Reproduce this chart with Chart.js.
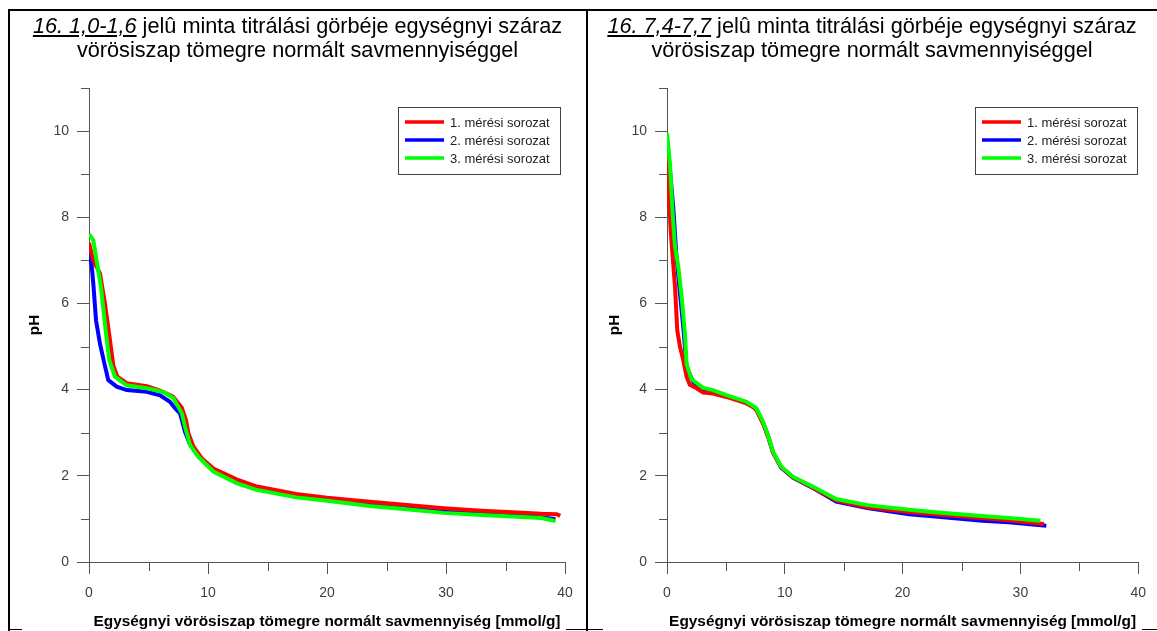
<!DOCTYPE html>
<html>
<head>
<meta charset="utf-8">
<script src="https://cdn.jsdelivr.net/npm/chart.js@4.4.0/dist/chart.umd.min.js"></script>
<style>
  html, body { margin: 0; padding: 0; background: #fff; }
  #wrap { position: relative; width: 1157px; height: 631px; overflow: hidden; font-family: "Liberation Sans", Arial, sans-serif; }
  canvas { position: absolute; top: 0; }
  .ln { position: absolute; background: #000; z-index: 5; }
  .title { position: absolute; top: 14px; text-align: center; font-size: 21.7px; line-height: 24px; color: #000; z-index: 6; white-space: nowrap; }
  .title u { font-style: italic; }
</style>
</head>
<body>
<div id="wrap">
  <canvas id="c1" width="587" height="631" style="left:0px"></canvas>
  <canvas id="c2" width="570" height="631" style="left:587px"></canvas>
  <div class="ln" style="left:8px;top:9px;width:1149px;height:2px"></div>
  <div class="ln" style="left:8px;top:9px;width:2px;height:622px"></div>
  <div class="ln" style="left:586px;top:9px;width:2px;height:622px"></div>
  <div class="ln" style="left:8px;top:629px;width:14px;height:1px"></div>
  <div class="ln" style="left:566px;top:629px;width:37px;height:1px"></div>
  <div class="ln" style="left:1142px;top:629px;width:15px;height:1px"></div>
  <div class="title" style="left:8px;width:579px"><u>16. 1,0-1,6</u> jelû minta titrálási görbéje egységnyi száraz<br>vörösiszap tömegre normált savmennyiséggel</div>
  <div class="title" style="left:587px;width:570px"><u>16. 7,4-7,7</u> jelû minta titrálási görbéje egységnyi száraz<br>vörösiszap tömegre normált savmennyiséggel</div>
</div>
<script>
// ---- data ----
const seriesLabels = ["1. mérési sorozat", "2. mérési sorozat", "3. mérési sorozat"];
const seriesColors = ["#ff0000", "#0000ff", "#00ff00"];
const xTitle = "Egységnyi vörösiszap tömegre normált savmennyiség [mmol/g]";
const yTitle = "pH";
const xMajorTicks = [0, 10, 20, 30, 40];
const xMinorTicks = [5, 15, 25, 35];
const yMajorTicks = [0, 2, 4, 6, 8, 10];
const yMinorTicks = [1, 3, 5, 7, 9, 11];

// left panel (16. 1,0-1,6)
const leftRedX   = [0, 0.36, 0.92, 1.34, 1.76, 2.05, 2.38, 3.17, 4.85, 5.97, 7.06, 7.8, 8.15, 8.35, 8.77, 9.47, 10.45, 12.4, 14, 17.4, 20, 23.6, 26, 29.8, 33, 36, 38, 39.3, 39.6];
const leftRedY   = [7.41, 7.0, 6.7, 6.0, 5.15, 4.55, 4.3, 4.15, 4.08, 3.98, 3.84, 3.58, 3.29, 2.99, 2.68, 2.41, 2.17, 1.92, 1.76, 1.58, 1.49, 1.40, 1.34, 1.25, 1.19, 1.15, 1.12, 1.11, 1.07];
const leftBlueX  = [0, 0.22, 0.36, 0.59, 0.92, 1.29, 1.62, 2.33, 3.17, 4.85, 5.97, 6.8, 7.23, 7.65, 8.07, 8.5, 9.2, 10.45, 12.4, 14, 17.4, 20, 23.6, 26, 29.8, 33, 36, 38, 39.2];
const leftBlueY  = [7.16, 6.89, 6.47, 5.61, 5.07, 4.61, 4.22, 4.07, 3.99, 3.95, 3.87, 3.72, 3.57, 3.45, 3.02, 2.72, 2.45, 2.12, 1.85, 1.70, 1.52, 1.44, 1.33, 1.26, 1.17, 1.11, 1.07, 1.04, 0.99];
const leftGreenX = [0, 0.36, 0.64, 1.0, 1.4, 1.7, 2.18, 3.17, 4.85, 6.25, 7.1, 7.5, 7.8, 8.07, 8.5, 9.2, 10.45, 12.4, 14, 17.4, 20, 23.6, 26, 29.8, 33, 36, 38, 39.2];
const leftGreenY = [7.61, 7.47, 7.0, 6.39, 5.38, 4.69, 4.3, 4.1, 4.03, 3.95, 3.80, 3.6, 3.45, 3.14, 2.71, 2.44, 2.1, 1.83, 1.68, 1.50, 1.42, 1.30, 1.24, 1.14, 1.09, 1.05, 1.02, 0.95];

// right panel (16. 7,4-7,7)
const rightRedX   = [0, 0.1, 0.31, 0.48, 0.68, 0.87, 1.1, 1.38, 1.66, 1.94, 2.51, 3.07, 3.91, 5.05, 6.74, 7.3, 7.58, 8.14, 8.57, 8.99, 9.7, 10.68, 12.37, 14.36, 17, 20.56, 23, 26.76, 29, 32];
const rightRedY   = [9.55, 8.98, 7.7, 7.08, 6.39, 5.38, 5.0, 4.69, 4.3, 4.11, 4.03, 3.93, 3.91, 3.83, 3.68, 3.6, 3.53, 3.22, 2.92, 2.54, 2.2, 1.97, 1.73, 1.43, 1.27, 1.16, 1.10, 1.02, 0.97, 0.88];
const rightBlueX  = [0, 0.25, 0.53, 0.8, 1.1, 1.4, 1.66, 2.22, 3.07, 3.91, 5.05, 6.74, 7.58, 8.14, 8.57, 8.99, 9.7, 10.68, 12.37, 14.36, 17, 20.56, 23, 26.76, 29, 32.2];
const rightBlueY  = [9.8, 9.1, 8.24, 7.1, 6.23, 5.4, 4.53, 4.18, 4.0, 3.96, 3.85, 3.7, 3.55, 3.24, 2.93, 2.55, 2.19, 1.96, 1.72, 1.40, 1.25, 1.11, 1.05, 0.96, 0.92, 0.84];
const rightGreenX = [0, 0.25, 0.48, 0.68, 0.96, 1.24, 1.52, 1.66, 2.09, 3.07, 3.91, 5.05, 6.74, 7.58, 8.14, 8.57, 8.99, 9.7, 10.68, 12.37, 14.36, 17, 20.56, 23, 26.76, 29, 31.7];
const rightGreenY = [9.95, 9.25, 8.09, 7.32, 6.85, 6.16, 5.31, 4.6, 4.24, 4.04, 3.99, 3.87, 3.72, 3.57, 3.26, 2.95, 2.56, 2.21, 1.98, 1.75, 1.46, 1.32, 1.21, 1.15, 1.07, 1.02, 0.96];

// ---- helpers ----
const zip = (xs, ys) => xs.map((x, i) => ({x: x, y: ys[i]}));
const FONT = '"Liberation Sans", Arial, sans-serif';
const AXIS = '#555555';

const minorTicksPlugin = {
  id: 'minorTicks',
  afterDraw(chart) {
    const ctx = chart.ctx, xs = chart.scales.x, ys = chart.scales.y;
    const ca = chart.chartArea;
    ctx.save();
    ctx.strokeStyle = AXIS; ctx.lineWidth = 1;
    ctx.beginPath();
    xMinorTicks.forEach(v => { const px = Math.round(xs.getPixelForValue(v)) + 0.5; ctx.moveTo(px, ca.bottom); ctx.lineTo(px, ca.bottom + 9); });
    yMinorTicks.forEach(v => { const py = Math.round(ys.getPixelForValue(v)) + 0.5; ctx.moveTo(ca.left - 8, py); ctx.lineTo(ca.left, py); });
    ctx.stroke();
    ctx.restore();
  }
};

const boxLegendPlugin = {
  id: 'boxLegend',
  afterDraw(chart, args, opts) {
    const ctx = chart.ctx;
    const b = opts.box;
    ctx.save();
    ctx.fillStyle = '#fff';
    ctx.fillRect(b.x, b.y, b.w, b.h);
    ctx.strokeStyle = '#444'; ctx.lineWidth = 1;
    ctx.strokeRect(b.x + 0.5, b.y + 0.5, b.w, b.h);
    ctx.font = '13px ' + FONT;
    ctx.textBaseline = 'middle';
    ctx.textAlign = 'left';
    chart.data.datasets.forEach((ds, i) => {
      const yy = b.y + 15 + i * 18;
      ctx.strokeStyle = ds.borderColor; ctx.lineWidth = 3.5;
      ctx.beginPath(); ctx.moveTo(b.x + 7, yy); ctx.lineTo(b.x + 46, yy); ctx.stroke();
      ctx.fillStyle = '#222';
      ctx.fillText(ds.label, b.x + 52, yy + 1);
    });
    ctx.restore();
  }
};

function makeChart(id, red, blue, green, pad, yWidth, legendBox) {
  const sets = [red, blue, green];
  const orders = [1, 2, 0];
  return new Chart(document.getElementById(id), {
    type: 'line',
    data: {
      datasets: sets.map((d, i) => ({
        label: seriesLabels[i],
        data: d,
        borderColor: seriesColors[i],
        backgroundColor: seriesColors[i],
        borderWidth: 4,
        pointRadius: 0,
        tension: 0,
        fill: false,
        order: orders[i]
      }))
    },
    options: {
      responsive: false,
      animation: false,
      events: [],
      layout: { padding: pad },
      plugins: {
        legend: { display: false },
        tooltip: { enabled: false },
        boxLegend: { box: legendBox }
      },
      scales: {
        x: {
          type: 'linear', min: 0, max: 40,
          afterBuildTicks: s => { s.ticks = xMajorTicks.map(v => ({value: v})); },
          afterFit: s => { s.height = 69; },
          grid: { display: true, drawOnChartArea: false, drawTicks: true, tickLength: 12, color: AXIS, lineWidth: 1 },
          border: { display: true, color: AXIS, width: 1 },
          ticks: { color: '#404040', font: { family: FONT, size: 14 }, padding: 11, maxRotation: 0 },
          title: { display: true, text: xTitle, color: '#000', font: { family: FONT, size: 15.4, weight: 'bold' }, padding: { top: 0, bottom: 0 } }
        },
        y: {
          type: 'linear', min: 0, max: 11,
          afterBuildTicks: s => { s.ticks = yMajorTicks.map(v => ({value: v})); },
          afterFit: s => { s.width = yWidth; },
          grid: { display: true, drawOnChartArea: false, drawTicks: true, tickLength: 12, color: AXIS, lineWidth: 1 },
          border: { display: true, color: AXIS, width: 1 },
          ticks: { color: '#404040', font: { family: FONT, size: 14 }, padding: 8 },
          title: { display: true, text: yTitle, color: '#000', font: { family: FONT, size: 15.4, weight: 'bold' }, padding: { top: 4, bottom: 4 } }
        }
      }
    },
    plugins: [minorTicksPlugin, boxLegendPlugin]
  });
}

makeChart('c1', zip(leftRedX, leftRedY), zip(leftBlueX, leftBlueY), zip(leftGreenX, leftGreenY),
  { left: 22, right: 22, top: 88, bottom: 0 }, 67, { x: 398, y: 107, w: 162, h: 67 });
makeChart('c2', zip(rightRedX, rightRedY), zip(rightBlueX, rightBlueY), zip(rightGreenX, rightGreenY),
  { left: 15, right: 15, top: 88, bottom: 0 }, 65, { x: 388, y: 107, w: 162, h: 67 });
</script>
</body>
</html>
